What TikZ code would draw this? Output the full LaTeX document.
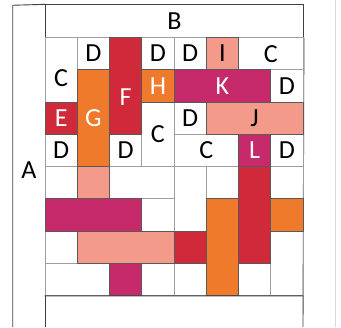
\documentclass[tikz,border=0pt]{standalone}
\usepackage{fontspec}
\setmainfont{Carlito}
\usepackage{tikz}
\usetikzlibrary{positioning}

\definecolor{cred}{HTML}{D0293A}
\definecolor{corange}{HTML}{EF7A2B}
\definecolor{cmag}{HTML}{C62A6B}
\definecolor{csalmon}{HTML}{F49A8A}

\begin{document}
\begin{tikzpicture}[
    cell/.style={rectangle, draw=gray!75, line width=0.6pt, inner sep=0pt,
                minimum width=1cm, minimum height=1cm,
                font=\fontsize{23}{27}\selectfont},
    bar/.style={cell, draw=black!65, text=white},
    wide/.style={minimum width=#1cm},
    tall/.style={minimum height=#1cm},
    frame/.style={draw=black!75, line width=0.8pt},
]
\useasboundingbox (-1.395,-8.977) rectangle (9.178,1.163);

% Rahmen
\draw[gray!30, line width=0.8pt] (9,1.163) -- (9,-8.977);
\node[cell, frame, wide=8, anchor=south west] (b) at (0,0) {B};
\draw[frame] (-1,-8.977) -- (-1,1) -- (b.north west);
\draw[frame] (b.south west) -- (0,-8.977);
\draw[frame] (b.south east) -- (8,-8.977);
\node[font=\fontsize{23}{27}\selectfont] (a) at (-0.5,-4.1) {A};

% Weisse Felder mit Buchstaben
\node[cell, tall=2] (r0c0) at (0.5,-1) {};
\node[font=\fontsize{23}{27}\selectfont] at (0.5,-1.25) {C};
\node[cell] (r0c1) at (1.5,-0.5) {D};
\node[cell] (r0c3) at (3.5,-0.5) {D};
\node[cell] (r0c4) at (4.5,-0.5) {D};
\node[cell, wide=2] (r0c6) at (7,-0.5) {C};
\node[cell] (r1c7) at (7.5,-1.5) {D};
\node[cell, tall=2] (r2c3) at (3.5,-3) {C};
\node[cell] (r2c4) at (4.5,-2.5) {D};
\node[cell] (r3c0) at (0.5,-3.5) {D};
\node[cell] (r3c2) at (2.5,-3.5) {D};
\node[cell, wide=2] (r3c4) at (5,-3.5) {C};
\node[cell] (r3c7) at (7.5,-3.5) {D};

% Weisse Felder unten
\node[cell] (r4c0) at (0.5,-4.5) {};
\node[cell, wide=2] (r4c2) at (3,-4.5) {};
\node[cell, tall=2] (r4c4) at (4.5,-5) {};
\node[cell] (r4c5) at (5.5,-4.5) {};
\node[cell] (r4c7) at (7.5,-4.5) {};
\node[cell] (r5c3) at (3.5,-5.5) {};
\node[cell] (r6c0) at (0.5,-6.5) {};
\node[cell, tall=2] (r6c7) at (7.5,-7) {};
\node[cell, wide=2] (r7c0) at (1,-7.5) {};
\node[cell] (r7c3) at (3.5,-7.5) {};
\node[cell] (r7c4) at (4.5,-7.5) {};
\node[cell] (r7c6) at (6.5,-7.5) {};

% Farbige Balken
\node[bar, fill=cred, tall=3] (f) at (2.5,-1.5) {};
\node[font=\fontsize{23}{27}\selectfont, text=white] at (2.5,-1.85) {F};
\node[bar, fill=csalmon, text=black] (i) at (5.5,-0.5) {I};
\node[bar, fill=corange, tall=3] (g) at (1.5,-2.5) {G};
\node[bar, fill=corange] (h) at (3.5,-1.5) {H};
\node[bar, fill=cmag, wide=3] (k) at (5.5,-1.5) {K};
\node[bar, fill=cred] (e) at (0.5,-2.5) {E};
\node[bar, fill=csalmon, wide=3, text=black] (j) at (6.5,-2.5) {J};
\node[bar, fill=cmag] (l) at (6.5,-3.5) {L};

% Balken ohne Text
\node[bar, fill=csalmon] (r4c1) at (1.5,-4.5) {};
\node[bar, fill=cred, tall=3] (r4c6) at (6.5,-5.5) {};
\node[bar, fill=cmag, wide=3] (r5c0) at (1.5,-5.5) {};
\node[bar, fill=corange, tall=3] (r5c5) at (5.5,-6.5) {};
\node[bar, fill=corange] (r5c7) at (7.5,-5.5) {};
\node[bar, fill=csalmon, wide=3] (r6c1) at (2.5,-6.5) {};
\node[bar, fill=cred] (r6c4) at (4.5,-6.5) {};
\node[bar, fill=cmag] (r7c2) at (2.5,-7.5) {};

% Unterer Rand
\draw[frame] (r7c0.south west) -- (r6c7.south east);

\end{tikzpicture}
\end{document}
